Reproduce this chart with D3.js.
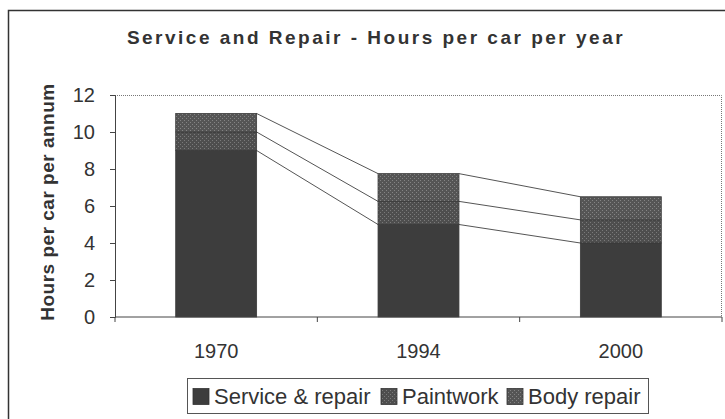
<!DOCTYPE html>
<html lang="en">
<head>
    <meta charset="UTF-8">
    <title>Service and Repair - Hours per car per year</title>
    <script src="https://d3js.org/d3.v7.min.js"></script>
    <style>
        body { margin: 0; background: #fff; }
        svg { display: block; font-family: "Liberation Sans", Arial, sans-serif; }
    </style>
</head>
<body>
    <div id="chart"></div>

    <script>
        const width = 725;
        const height = 419;

        // chart data
        const years = ["1970", "1994", "2000"];
        const seriesNames = ["Service & repair", "Paintwork", "Body repair"];
        const serviceRepair = [9, 5, 4];
        const paintwork = [1, 1.25, 1.25];
        const bodyRepair = [1, 1.5, 1.25];
        const yTicks = [0, 2, 4, 6, 8, 10, 12];

        const margin = {top: 95, right: 3, bottom: 102, left: 115};

        const svg = d3.select("#chart")
                      .append("svg")
                      .attr("width", width)
                      .attr("height", height);

        // speckled fills like the old printed chart
        const defs = svg.append("defs");
        function speckle(id, base, dot) {
            const p = defs.append("pattern")
                .attr("id", id)
                .attr("width", 4).attr("height", 4)
                .attr("patternUnits", "userSpaceOnUse");
            p.append("rect").attr("width", 4).attr("height", 4).attr("fill", base);
            p.append("rect").attr("x", 0).attr("y", 0).attr("width", 1).attr("height", 1).attr("fill", dot);
            p.append("rect").attr("x", 2).attr("y", 2).attr("width", 1).attr("height", 1).attr("fill", dot);
        }
        speckle("pat-paint", "#4e4e4e", "#7a7a7a");
        speckle("pat-body", "#555555", "#848484");
        const fills = ["#3d3d3d", "url(#pat-paint)", "url(#pat-body)"];

        // outer frame
        svg.append("rect")
           .attr("x", 8.5).attr("y", 10.5)
           .attr("width", width + 20).attr("height", height + 20)
           .attr("fill", "none")
           .attr("stroke", "#333")
           .attr("stroke-width", 1.5);

        svg.append("text")
           .attr("x", 376).attr("y", 44)
           .attr("text-anchor", "middle")
           .attr("font-size", 19)
           .attr("font-weight", "bold")
           .attr("letter-spacing", 2.5)
           .attr("fill", "#333")
           .text("Service and Repair - Hours per car per year");

        const x = d3.scaleBand()
                    .domain(years)
                    .range([margin.left, width - margin.right])
                    .paddingInner(0.6)
                    .paddingOuter(0.3);

        const y = d3.scaleLinear()
                    .domain([0, 12])
                    .range([height - margin.bottom, margin.top]);

        const plotW = width - margin.right - margin.left;
        const plotH = height - margin.bottom - margin.top;

        // dotted plot-area border (top and right)
        svg.append("path")
           .attr("d", `M${margin.left},${margin.top + 0.5}H${width - margin.right - 0.5}V${height - margin.bottom}`)
           .attr("fill", "none")
           .attr("stroke", "#777")
           .attr("stroke-dasharray", "1,1");

        // stacked values
        const table = years.map((yr, i) => ({year: yr, s0: serviceRepair[i], s1: paintwork[i], s2: bodyRepair[i]}));
        const stack = d3.stack().keys(["s0", "s1", "s2"]);
        const layers = stack(table);

        // connector lines between bars
        const lines = svg.append("g").attr("stroke", "#555").attr("stroke-width", 1).attr("fill", "none");
        layers.forEach(layer => {
            for (let i = 0; i < layer.length - 1; i++) {
                lines.append("line")
                     .attr("x1", x(years[i]) + x.bandwidth())
                     .attr("y1", y(layer[i][1]))
                     .attr("x2", x(years[i + 1]))
                     .attr("y2", y(layer[i + 1][1]));
            }
        });

        svg.append("g")
           .selectAll("g")
           .data(layers)
           .enter()
           .append("g")
           .attr("fill", (d, i) => fills[i])
           .selectAll("rect")
           .data(d => d)
           .enter()
           .append("rect")
           .attr("x", d => x(d.data.year))
           .attr("y", d => y(d[1]))
           .attr("width", x.bandwidth())
           .attr("height", d => y(d[0]) - y(d[1]))
           .attr("stroke", "#3a3a3a")
           .attr("stroke-width", 0.8);

        // y axis
        const yAxis = svg.append("g")
           .attr("transform", `translate(${margin.left},0)`)
           .call(d3.axisLeft(y).tickValues(yTicks).tickSize(5).tickPadding(15));
        yAxis.select(".domain").attr("stroke", "#444");
        yAxis.selectAll(".tick line").attr("stroke", "#444");
        yAxis.selectAll("text").attr("font-size", 20).attr("fill", "#333")
             .attr("font-family", "'Liberation Sans', Arial, sans-serif");

        // x axis with ticks between categories
        const xAxisG = svg.append("g")
           .attr("transform", `translate(0,${height - margin.bottom})`);
        xAxisG.append("line")
              .attr("x1", margin.left).attr("x2", width - margin.right)
              .attr("stroke", "#444");
        const step = plotW / years.length;
        d3.range(years.length + 1).forEach(i => {
            xAxisG.append("line")
                  .attr("x1", margin.left + i * step).attr("x2", margin.left + i * step)
                  .attr("y1", 0).attr("y2", 5)
                  .attr("stroke", "#444");
        });
        xAxisG.selectAll("text.cat")
              .data(years)
              .enter()
              .append("text")
              .attr("class", "cat")
              .attr("x", d => x(d) + x.bandwidth() / 2)
              .attr("y", 41)
              .attr("text-anchor", "middle")
              .attr("font-size", 20)
              .attr("fill", "#333")
              .text(d => d);

        // y title
        svg.append("text")
           .attr("transform", `translate(54,${margin.top + plotH / 2 - 4}) rotate(-90)`)
           .attr("text-anchor", "middle")
           .attr("font-size", 19)
           .attr("font-weight", "bold")
           .attr("letter-spacing", 0.5)
           .attr("fill", "#333")
           .text("Hours per car per annum");

        // legend
        const legend = svg.append("g");
        legend.append("rect")
              .attr("x", 187.5).attr("y", 378.5)
              .attr("width", 461).attr("height", 35)
              .attr("fill", "#fff")
              .attr("stroke", "#555");
        const legendX = [193, 381, 507];
        seriesNames.forEach((name, i) => {
            legend.append("rect")
                  .attr("x", legendX[i]).attr("y", 388.5)
                  .attr("width", 16).attr("height", 16)
                  .attr("fill", fills[i])
                  .attr("stroke", "#333")
                  .attr("stroke-width", 0.8);
            legend.append("text")
                  .attr("x", legendX[i] + 21).attr("y", 404)
                  .attr("font-size", 22)
                  .attr("fill", "#333")
                  .text(name);
        });
    </script>
</body>
</html>
